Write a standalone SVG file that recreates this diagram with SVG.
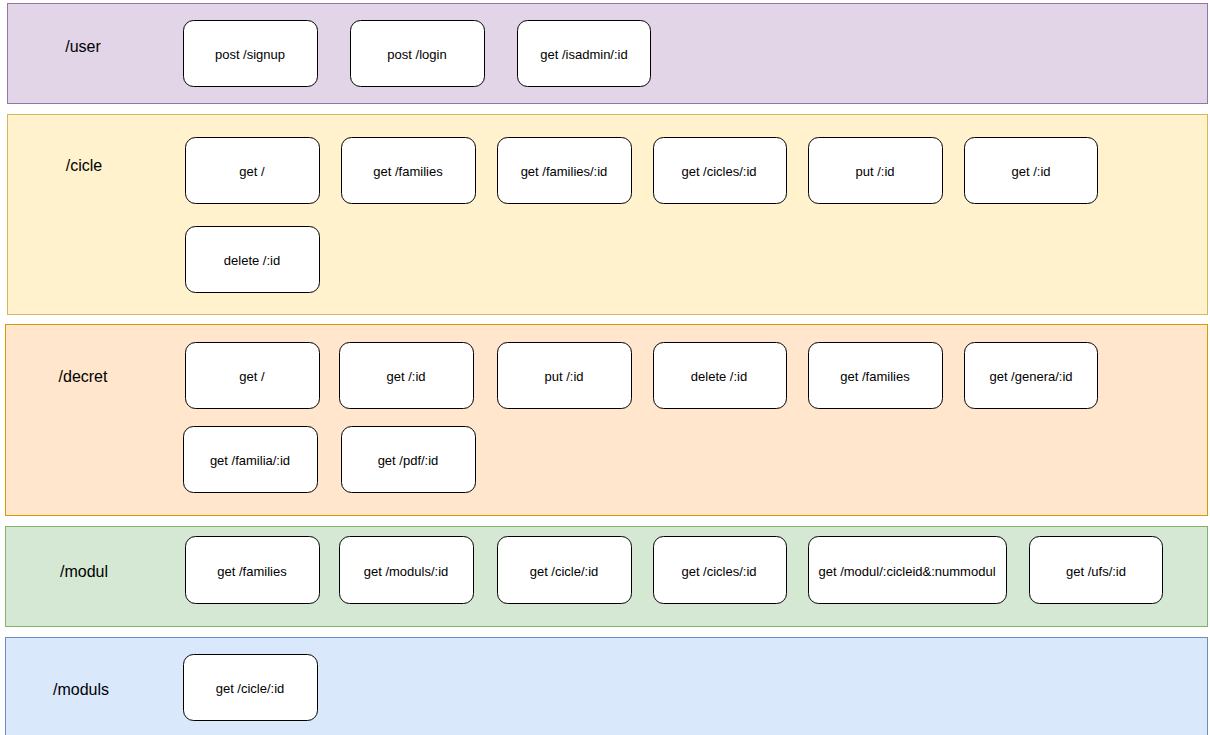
<svg xmlns="http://www.w3.org/2000/svg" width="1210" height="735" viewBox="0 0 1210 735">
<style>
.lane{stroke-width:1}
.lt{font-family:"Liberation Sans",Arial,sans-serif;font-size:16px;fill:#000;text-anchor:middle;dominant-baseline:central}
.n rect{fill:#fff;stroke:#000;stroke-width:1}
.n text{font-family:"Liberation Sans",Arial,sans-serif;font-size:13px;fill:#000;text-anchor:middle;dominant-baseline:central}
</style>
<rect width="1210" height="735" fill="#fff"/>
<g id="lane-user"><rect class="lane" x="7.5" y="3.5" width="1200" height="100" fill="#e1d5e7" stroke="#9673a6"/><text class="lt" x="83" y="46">/user</text></g>
<g id="lane-cicle"><rect class="lane" x="7.5" y="114.5" width="1200" height="200" fill="#fff2cc" stroke="#d6b656"/><text class="lt" x="84" y="165">/cicle</text></g>
<g id="lane-decret"><rect class="lane" x="5.5" y="324.5" width="1202" height="191" fill="#ffe6cc" stroke="#d79b00"/><text class="lt" x="83" y="376">/decret</text></g>
<g id="lane-modul"><rect class="lane" x="5.5" y="526.5" width="1202" height="100" fill="#d5e8d4" stroke="#82b366"/><text class="lt" x="84" y="571">/modul</text></g>
<g id="lane-moduls"><rect class="lane" x="5.5" y="637.5" width="1202" height="100" fill="#dae8fc" stroke="#6c8ebf"/><text class="lt" x="81" y="689">/moduls</text></g>

<g id="user-signup" class="n"><rect x="183.5" y="20.5" width="134" height="66" rx="10"/><text x="250" y="54">post /signup</text></g>
<g id="user-login" class="n"><rect x="350.5" y="20.5" width="134" height="66" rx="10"/><text x="417" y="54">post /login</text></g>
<g id="user-isadmin" class="n"><rect x="517.5" y="20.5" width="133" height="66" rx="10"/><text x="584" y="54">get /isadmin/:id</text></g>

<g id="cicle-get" class="n"><rect x="185.5" y="137.5" width="134" height="66" rx="10"/><text x="252" y="171">get /</text></g>
<g id="cicle-families" class="n"><rect x="341.5" y="137.5" width="134" height="66" rx="10"/><text x="408" y="171">get /families</text></g>
<g id="cicle-families-id" class="n"><rect x="497.5" y="137.5" width="134" height="66" rx="10"/><text x="564" y="171">get /families/:id</text></g>
<g id="cicle-cicles-id" class="n"><rect x="653.5" y="137.5" width="133" height="66" rx="10"/><text x="719" y="171">get /cicles/:id</text></g>
<g id="cicle-put" class="n"><rect x="808.5" y="137.5" width="134" height="66" rx="10"/><text x="875" y="171">put /:id</text></g>
<g id="cicle-get-id" class="n"><rect x="964.5" y="137.5" width="133" height="66" rx="10"/><text x="1031" y="171">get /:id</text></g>
<g id="cicle-delete" class="n"><rect x="185.5" y="226.5" width="134" height="66" rx="10"/><text x="252" y="260">delete /:id</text></g>

<g id="decret-get" class="n"><rect x="185.5" y="342.5" width="134" height="66" rx="10"/><text x="252" y="376">get /</text></g>
<g id="decret-get-id" class="n"><rect x="339.5" y="342.5" width="134" height="66" rx="10"/><text x="406" y="376">get /:id</text></g>
<g id="decret-put" class="n"><rect x="497.5" y="342.5" width="134" height="66" rx="10"/><text x="564" y="376">put /:id</text></g>
<g id="decret-delete" class="n"><rect x="653.5" y="342.5" width="133" height="66" rx="10"/><text x="719" y="376">delete /:id</text></g>
<g id="decret-families" class="n"><rect x="808.5" y="342.5" width="134" height="66" rx="10"/><text x="875" y="376">get /families</text></g>
<g id="decret-genera" class="n"><rect x="964.5" y="342.5" width="133" height="66" rx="10"/><text x="1031" y="376">get /genera/:id</text></g>
<g id="decret-familia" class="n"><rect x="183.5" y="426.5" width="134" height="66" rx="10"/><text x="250" y="460">get /familia/:id</text></g>
<g id="decret-pdf" class="n"><rect x="341.5" y="426.5" width="134" height="66" rx="10"/><text x="408" y="460">get /pdf/:id</text></g>

<g id="modul-families" class="n"><rect x="185.5" y="536.5" width="134" height="67" rx="10"/><text x="252" y="571">get /families</text></g>
<g id="modul-moduls-id" class="n"><rect x="339.5" y="536.5" width="134" height="67" rx="10"/><text x="406" y="571">get /moduls/:id</text></g>
<g id="modul-cicle-id" class="n"><rect x="497.5" y="536.5" width="134" height="67" rx="10"/><text x="564" y="571">get /cicle/:id</text></g>
<g id="modul-cicles-id" class="n"><rect x="653.5" y="536.5" width="133" height="67" rx="10"/><text x="719" y="571">get /cicles/:id</text></g>
<g id="modul-modul" class="n"><rect x="808.5" y="536.5" width="198" height="67" rx="10"/><text x="907" y="571">get /modul/:cicleid&amp;:nummodul</text></g>
<g id="modul-ufs" class="n"><rect x="1029.5" y="536.5" width="133" height="67" rx="10"/><text x="1096" y="571">get /ufs/:id</text></g>

<g id="moduls-cicle-id" class="n"><rect x="183.5" y="654.5" width="134" height="66" rx="10"/><text x="250" y="688">get /cicle/:id</text></g>

<g id="connectors"></g>
</svg>
